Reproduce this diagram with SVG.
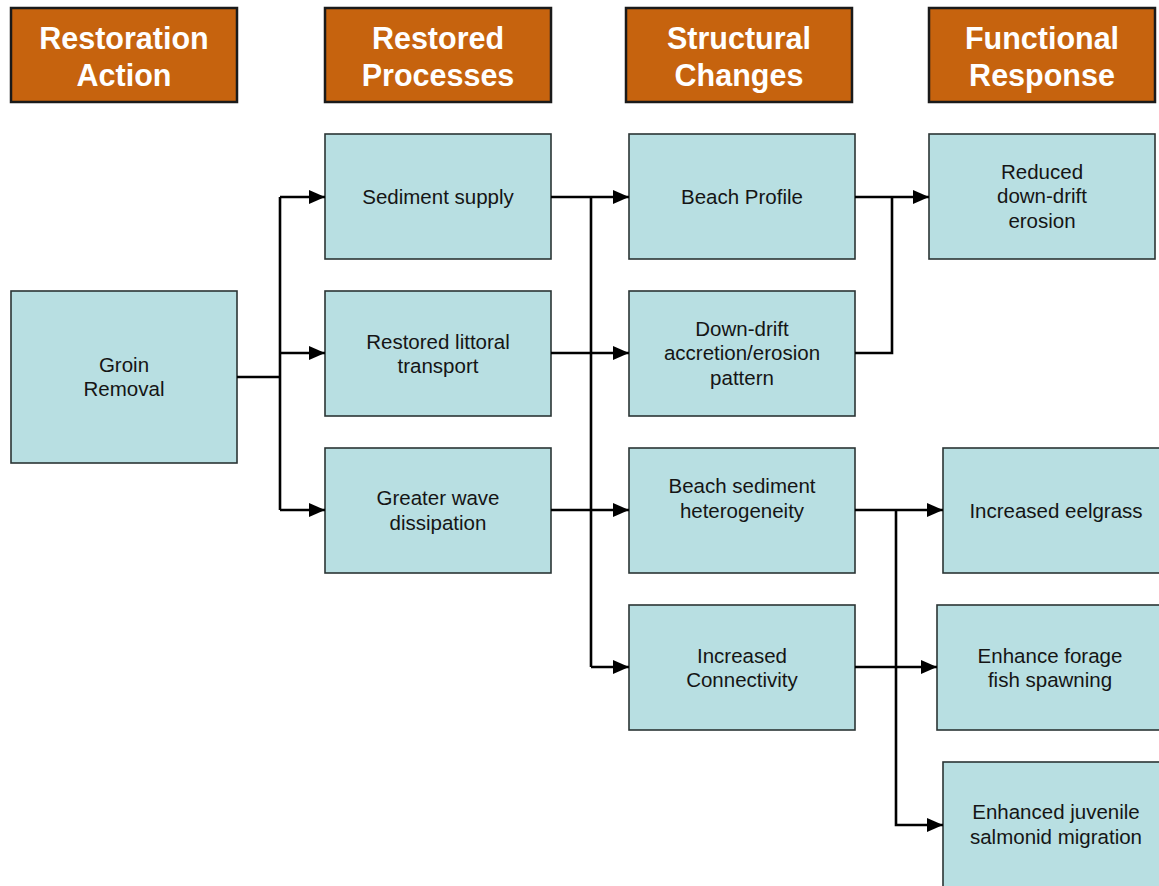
<svg xmlns="http://www.w3.org/2000/svg" width="1159" height="886" viewBox="0 0 1159 886">
<style>
.hdr rect{fill:#c6630e;stroke:#1a1a1a;stroke-width:2.5}
.hdr text{font-family:"Liberation Sans",Arial,sans-serif;font-weight:bold;font-size:30.5px;fill:#ffffff;text-anchor:middle}
.node rect{fill:#b8dfe2;stroke:#2b3535;stroke-width:1.6}
.node text{font-family:"Liberation Sans",Arial,sans-serif;font-size:20.5px;fill:#151515;text-anchor:middle}
.conn path{fill:none;stroke:#000;stroke-width:2.6}
</style>
<defs>
<marker id="ah" markerUnits="userSpaceOnUse" markerWidth="17" markerHeight="15" refX="16" refY="7" orient="auto">
<path d="M0,0 L16,7 L0,14 z" fill="#000"/>
</marker>
</defs>
<rect width="1159" height="886" fill="#ffffff"/>

<g id="h1" class="hdr"><rect x="11" y="8" width="226" height="94"/><text x="124" y="49">Restoration</text><text x="124" y="86">Action</text></g>
<g id="h2" class="hdr"><rect x="325" y="8" width="226" height="94"/><text x="438" y="49">Restored</text><text x="438" y="86">Processes</text></g>
<g id="h3" class="hdr"><rect x="626" y="8" width="226" height="94"/><text x="739" y="49">Structural</text><text x="739" y="86">Changes</text></g>
<g id="h4" class="hdr"><rect x="929" y="8" width="226" height="94"/><text x="1042" y="49">Functional</text><text x="1042" y="86">Response</text></g>

<g id="groin" class="node"><rect x="11" y="291" width="226" height="172"/><text x="124" y="372">Groin</text><text x="124" y="396">Removal</text></g>

<g id="sediment" class="node"><rect x="325" y="134" width="226" height="125"/><text x="438" y="204">Sediment supply</text></g>
<g id="littoral" class="node"><rect x="325" y="291" width="226" height="125"/><text x="438" y="349">Restored littoral</text><text x="438" y="373">transport</text></g>
<g id="wave" class="node"><rect x="325" y="448" width="226" height="125"/><text x="438" y="505">Greater wave</text><text x="438" y="530">dissipation</text></g>

<g id="profile" class="node"><rect x="629" y="134" width="226" height="125"/><text x="742" y="204">Beach Profile</text></g>
<g id="downdrift" class="node"><rect x="629" y="291" width="226" height="125"/><text x="742" y="336">Down-drift</text><text x="742" y="360">accretion/erosion</text><text x="742" y="385">pattern</text></g>
<g id="hetero" class="node"><rect x="629" y="448" width="226" height="125"/><text x="742" y="493">Beach sediment</text><text x="742" y="518">heterogeneity</text></g>
<g id="connect" class="node"><rect x="629" y="605" width="226" height="125"/><text x="742" y="663">Increased</text><text x="742" y="687">Connectivity</text></g>

<g id="reduced" class="node"><rect x="929" y="134" width="226" height="125"/><text x="1042" y="179">Reduced</text><text x="1042" y="203">down-drift</text><text x="1042" y="228">erosion</text></g>
<g id="eelgrass" class="node"><rect x="943" y="448" width="226" height="125"/><text x="1056" y="518">Increased eelgrass</text></g>
<g id="forage" class="node"><rect x="937" y="605" width="226" height="125"/><text x="1050" y="663">Enhance forage</text><text x="1050" y="687">fish spawning</text></g>
<g id="salmon" class="node"><rect x="943" y="762" width="226" height="126"/><text x="1056" y="819">Enhanced juvenile</text><text x="1056" y="844">salmonid migration</text></g>

<g id="connectors" class="conn">
<path d="M237,377 H280"/>
<path d="M280,197 V510"/>
<path d="M280,197 H325" marker-end="url(#ah)"/>
<path d="M280,353 H325" marker-end="url(#ah)"/>
<path d="M280,510 H325" marker-end="url(#ah)"/>

<path d="M551,197 H591"/>
<path d="M591,197 V667"/>
<path d="M591,197 H629" marker-end="url(#ah)"/>
<path d="M551,353 H629" marker-end="url(#ah)"/>
<path d="M551,510 H629" marker-end="url(#ah)"/>
<path d="M591,667 H629" marker-end="url(#ah)"/>

<path d="M855,197 H929" marker-end="url(#ah)"/>
<path d="M855,353 H892 V197"/>

<path d="M855,510 H943" marker-end="url(#ah)"/>
<path d="M896,510 V825 H943" marker-end="url(#ah)"/>
<path d="M855,667 H937" marker-end="url(#ah)"/>
</g>
</svg>
